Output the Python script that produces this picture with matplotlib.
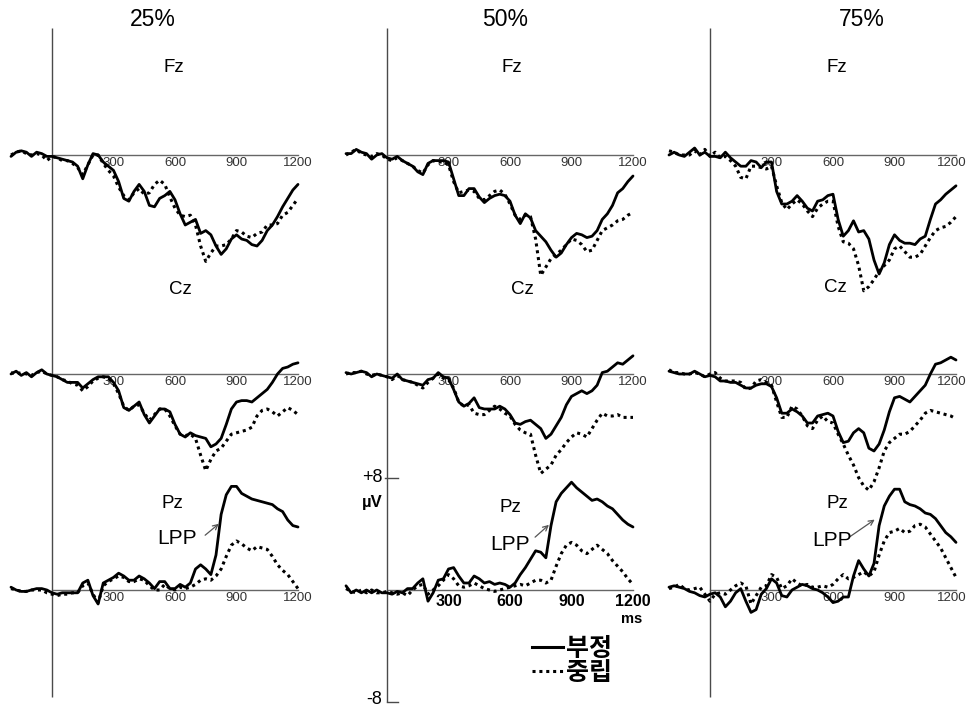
import matplotlib
matplotlib.use("Agg")
import matplotlib.pyplot as plt
from matplotlib.font_manager import FontProperties
from matplotlib.lines import Line2D
import numpy as np

# ---------------- data (µV) ----------------
TIMES = [-200, -175, -150, -125, -100, -75, -50, -25, 0, 25, 50, 75, 100, 125, 150, 175,
         200, 225, 250, 275, 300, 325, 350, 375, 400, 425, 450, 475, 500, 525, 550, 575,
         600, 625, 650, 675, 700, 725, 750, 775, 800, 825, 850, 875, 900, 925, 950, 975,
         1000, 1025, 1050, 1075, 1100, 1125, 1150, 1175, 1200]

CONDITIONS = ["25%", "50%", "75%"]
ELECTRODES = ["Fz", "Cz", "Pz"]
SERIES_LABELS = ["부정", "중립"]
TICK_LABELS = [300, 600, 900, 1200]

# 25%
FZ_25_NEG = [-0.1, 0.2, 0.3, 0.2, -0.1, 0.2, 0.1, -0.1, -0.1, -0.2, -0.3, -0.4, -0.5, -0.8, -1.7, -0.7,
             0.1, 0.0, -0.5, -0.8, -1.1, -1.9, -3.1, -3.3, -2.6, -2.1, -2.6, -3.6, -3.7, -3.1, -2.9, -2.6,
             -3.2, -4.2, -5.0, -4.8, -4.6, -5.6, -5.4, -5.7, -6.5, -7.1, -6.7, -6.0, -5.7, -6.0, -6.1, -6.4,
             -6.5, -6.1, -5.4, -5.0, -4.4, -3.7, -3.1, -2.5, -2.1]
FZ_25_NEU = [0.0, 0.2, 0.3, 0.1, 0.0, 0.1, 0.0, -0.4, -0.1, -0.2, -0.4, -0.4, -0.6, -0.9, -1.4, -0.7,
             0.0, 0.0, -0.6, -1.1, -1.5, -2.3, -2.9, -3.2, -2.7, -2.4, -2.8, -2.7, -2.1, -1.8, -2.1, -3.0,
             -3.8, -4.3, -4.4, -4.3, -5.0, -6.5, -7.6, -7.0, -6.5, -6.5, -6.4, -6.0, -5.4, -5.5, -5.8, -5.9,
             -5.6, -5.5, -5.0, -5.0, -4.9, -4.3, -4.1, -3.6, -3.1]
CZ_25_NEG = [0.0, 0.2, -0.1, 0.1, -0.2, 0.1, 0.3, 0.0, -0.1, -0.2, -0.4, -0.6, -0.6, -0.6, -1.0, -0.7,
             -0.4, -0.2, -0.2, -0.2, -0.6, -1.2, -2.4, -2.6, -2.3, -2.0, -2.9, -3.5, -3.0, -2.5, -2.5, -2.7,
             -3.6, -4.3, -4.5, -4.2, -4.4, -4.5, -4.6, -5.2, -5.0, -4.6, -3.6, -2.5, -2.0, -1.9, -1.9, -2.0,
             -1.7, -1.4, -1.1, -0.6, 0.0, 0.4, 0.5, 0.7, 0.8]
CZ_25_NEU = [0.1, 0.0, 0.1, 0.0, -0.1, 0.1, 0.2, 0.0, -0.1, -0.2, -0.4, -0.5, -0.7, -0.8, -1.2, -0.9,
             -0.5, -0.3, -0.2, -0.3, -0.7, -1.4, -2.3, -2.6, -2.3, -2.2, -2.8, -3.3, -2.9, -2.5, -2.5, -3.0,
             -3.7, -4.3, -4.4, -4.3, -4.6, -5.8, -6.9, -6.1, -5.5, -5.3, -4.8, -4.3, -4.2, -4.1, -4.0, -3.8,
             -3.0, -2.6, -2.5, -2.7, -3.0, -2.7, -2.4, -2.6, -2.9]
PZ_25_NEG = [0.2, 0.0, -0.1, -0.1, 0.0, 0.1, 0.1, 0.0, -0.2, -0.3, -0.2, -0.2, -0.2, -0.2, 0.5, 0.7,
             -0.4, -1.0, 0.5, 0.7, 0.9, 1.2, 1.0, 0.7, 0.7, 1.0, 0.8, 0.5, 0.1, 0.6, 0.6, 0.1,
             0.1, 0.4, 0.2, 0.5, 1.5, 1.8, 1.5, 1.1, 2.5, 5.4, 6.8, 7.4, 7.4, 6.9, 6.7, 6.5,
             6.4, 6.3, 6.2, 6.1, 5.8, 5.6, 5.0, 4.6, 4.5]
PZ_25_NEU = [0.1, 0.0, -0.1, -0.1, 0.0, 0.0, 0.0, -0.2, -0.3, -0.4, -0.3, -0.3, -0.2, -0.2, 0.3, 0.5,
             -0.3, -0.9, 0.3, 0.6, 0.8, 1.0, 0.9, 0.6, 0.6, 0.8, 0.7, 0.3, 0.0, 0.0, 0.4, 0.1,
             0.0, 0.2, 0.1, 0.2, 0.4, 0.7, 0.8, 0.7, 1.0, 1.5, 2.4, 3.2, 3.5, 3.3, 3.0, 2.8,
             3.1, 3.0, 2.9, 2.4, 1.8, 1.4, 1.1, 0.6, 0.1]

# 50%
FZ_50_NEG = [0.1, 0.1, 0.4, 0.2, 0.1, -0.3, 0.0, 0.1, -0.2, -0.3, -0.1, -0.4, -0.6, -0.8, -1.2, -1.4,
             -0.6, -0.4, -0.4, -0.4, -0.5, -1.7, -2.9, -2.9, -2.4, -2.4, -3.0, -3.4, -3.1, -2.9, -2.8, -2.9,
             -3.3, -4.3, -4.9, -4.2, -4.5, -5.4, -5.8, -6.2, -6.8, -7.3, -7.0, -6.4, -5.9, -5.6, -5.7, -5.9,
             -5.8, -5.4, -4.6, -4.2, -3.6, -2.7, -2.4, -1.9, -1.5]
FZ_50_NEU = [0.0, 0.2, 0.4, 0.1, 0.0, -0.1, 0.1, 0.0, -0.3, -0.4, -0.2, -0.4, -0.6, -0.8, -1.1, -1.3,
             -0.7, -0.4, -0.5, -0.5, -0.7, -1.9, -2.7, -2.6, -2.5, -2.6, -3.1, -3.2, -2.9, -2.6, -2.5, -2.8,
             -3.5, -4.3, -4.6, -4.3, -4.4, -6.0, -8.6, -8.0, -7.4, -7.1, -6.8, -6.4, -6.0, -6.1, -6.4, -6.9,
             -6.8, -6.1, -5.4, -5.2, -5.0, -4.7, -4.6, -4.3, -4.1]
CZ_50_NEG = [0.1, 0.0, 0.1, 0.2, 0.1, -0.2, 0.0, -0.1, -0.2, -0.3, 0.0, -0.4, -0.5, -0.6, -0.7, -0.8,
             -0.4, -0.3, 0.1, -0.2, -0.3, -1.1, -2.0, -2.3, -2.1, -1.7, -2.4, -2.5, -2.5, -2.5, -2.3, -2.5,
             -2.9, -3.5, -3.6, -3.4, -3.3, -3.6, -3.9, -4.6, -4.3, -3.7, -3.1, -2.2, -1.6, -1.4, -1.2, -1.4,
             -1.2, -0.8, 0.1, 0.2, 0.5, 0.8, 0.7, 1.0, 1.3]
CZ_50_NEU = [0.0, 0.1, 0.1, 0.2, 0.0, -0.1, 0.0, -0.1, -0.2, -0.4, -0.1, -0.4, -0.5, -0.6, -0.8, -1.0,
             -0.6, -0.3, 0.0, -0.3, -0.4, -1.0, -2.0, -2.3, -2.2, -2.8, -2.9, -2.9, -2.6, -2.3, -2.5, -2.8,
             -3.0, -3.6, -4.0, -4.2, -4.3, -5.8, -7.1, -6.8, -6.5, -5.8, -5.4, -4.9, -4.5, -4.2, -4.3, -4.5,
             -3.9, -3.3, -2.8, -3.0, -3.0, -2.9, -3.1, -3.1, -3.1]
PZ_50_NEG = [0.3, -0.2, 0.0, -0.2, 0.0, -0.2, 0.0, -0.2, -0.2, -0.3, -0.1, -0.2, 0.1, 0.1, 0.5, 0.8,
             -0.8, -0.2, 0.7, 0.8, 1.5, 1.6, 1.0, 0.5, 0.5, 1.0, 0.8, 0.5, 0.6, 0.4, 0.5, 0.4,
             0.2, 0.5, 1.1, 1.6, 2.2, 2.8, 2.7, 2.3, 4.6, 6.3, 6.9, 7.3, 7.7, 7.3, 7.0, 6.7,
             6.4, 6.5, 6.3, 6.0, 5.8, 5.4, 5.0, 4.7, 4.5]
PZ_50_NEU = [0.1, -0.1, -0.2, 0.0, -0.2, 0.0, -0.2, -0.2, -0.1, -0.2, -0.3, -0.2, -0.4, 0.0, 0.3, 0.4,
             -0.3, 0.0, 0.3, 0.7, 1.1, 0.8, 0.3, 0.2, 0.3, 0.5, 0.3, 0.1, 0.0, -0.1, 0.0, 0.1,
             0.2, 0.3, 0.4, 0.3, 0.5, 0.7, 0.7, 0.5, 0.7, 1.7, 2.6, 3.2, 3.4, 3.2, 2.8, 2.6,
             2.9, 3.2, 2.9, 2.6, 2.1, 1.7, 1.3, 0.8, 0.4]

# 75%
FZ_75_NEG = [0.0, 0.2, 0.0, -0.1, 0.2, 0.5, 0.0, 0.2, -0.1, -0.1, -0.2, 0.2, -0.2, -0.5, -0.8, -0.8,
             -0.4, -0.5, -0.9, -0.5, -0.5, -2.6, -3.5, -3.5, -3.3, -2.9, -3.3, -3.8, -4.0, -3.3, -3.2, -2.9,
             -2.8, -4.6, -5.8, -5.4, -4.7, -5.5, -5.4, -6.0, -7.5, -8.5, -7.7, -6.4, -5.7, -6.1, -6.3, -6.3,
             -6.4, -6.0, -5.8, -4.6, -3.5, -3.2, -2.8, -2.5, -2.2]
FZ_75_NEU = [0.3, 0.2, 0.0, 0.0, 0.0, 0.3, 0.0, 0.4, -0.1, 0.2, -0.2, -0.1, -0.4, -0.8, -1.6, -1.7,
             -0.8, -0.8, -0.9, -1.0, -0.8, -2.2, -3.4, -3.9, -3.5, -3.2, -3.5, -4.0, -4.4, -3.8, -3.5, -3.3,
             -3.3, -5.1, -6.2, -6.3, -6.7, -7.9, -9.7, -9.4, -8.9, -8.3, -7.9, -7.5, -6.7, -6.5, -6.9, -7.3,
             -7.3, -7.1, -6.5, -5.9, -5.4, -5.2, -5.1, -4.8, -4.4]
CZ_75_NEG = [0.2, 0.1, 0.0, 0.0, 0.0, 0.2, 0.0, -0.2, -0.1, -0.2, -0.5, -0.5, -0.6, -0.6, -0.8, -1.0,
             -1.0, -0.8, -0.7, -0.7, -0.9, -1.7, -2.8, -2.8, -2.5, -2.7, -3.0, -3.5, -3.5, -3.0, -2.9, -2.8,
             -3.0, -4.1, -4.9, -4.8, -4.2, -3.9, -4.2, -5.3, -5.5, -5.0, -4.0, -2.7, -1.7, -1.6, -1.8, -2.0,
             -1.6, -1.2, -0.8, 0.0, 0.7, 0.8, 1.0, 1.2, 1.0]
CZ_75_NEU = [0.3, 0.1, 0.1, 0.0, 0.0, 0.1, 0.0, -0.2, 0.0, 0.1, -0.3, -0.5, -0.5, -0.5, -0.6, -1.1,
             -1.0, -0.5, -0.4, -0.6, -0.8, -2.0, -3.1, -3.1, -2.3, -2.5, -3.0, -3.7, -3.9, -3.3, -3.0, -3.4,
             -3.5, -4.3, -5.0, -5.8, -6.5, -7.4, -8.0, -8.3, -7.7, -6.7, -5.5, -4.9, -4.6, -4.3, -4.3, -4.1,
             -3.7, -3.3, -2.8, -2.6, -2.7, -2.8, -2.9, -3.0, -3.2]
PZ_75_NEG = [0.2, 0.3, 0.2, 0.1, -0.1, -0.2, -0.4, -0.5, -0.3, -0.2, -0.5, -1.2, -0.8, -0.2, 0.1, -0.8,
             -1.6, -1.4, -0.3, 0.1, 0.8, 0.5, -0.4, -0.5, 0.0, 0.2, 0.4, 0.3, 0.1, 0.0, -0.2, -0.5,
             -0.9, -0.8, -0.5, -0.5, 1.0, 2.1, 1.5, 1.0, 1.9, 4.6, 6.0, 6.7, 7.2, 7.2, 6.3, 6.1,
             6.0, 5.8, 5.5, 5.4, 5.1, 4.6, 4.1, 3.8, 3.4]
PZ_75_NEU = [0.1, 0.2, 0.4, 0.1, 0.0, 0.1, 0.2, -0.3, -0.8, -0.3, -0.2, -0.3, 0.0, 0.3, 0.5, 0.3,
             -1.0, -0.4, 0.2, 0.3, 1.1, 0.9, 0.1, 0.3, 0.8, 0.5, 0.3, 0.4, 0.2, 0.2, 0.3, 0.2,
             0.4, 0.8, 1.1, 0.8, 0.9, 1.1, 1.3, 1.0, 1.3, 2.5, 3.5, 4.1, 4.2, 4.4, 4.1, 4.2,
             4.6, 4.7, 4.5, 4.0, 3.5, 3.0, 2.3, 1.6, 0.9]

DATA = {
    "25%": {"Fz": (FZ_25_NEG, FZ_25_NEU), "Cz": (CZ_25_NEG, CZ_25_NEU), "Pz": (PZ_25_NEG, PZ_25_NEU)},
    "50%": {"Fz": (FZ_50_NEG, FZ_50_NEU), "Cz": (CZ_50_NEG, CZ_50_NEU), "Pz": (PZ_50_NEG, PZ_50_NEU)},
    "75%": {"Fz": (FZ_75_NEG, FZ_75_NEU), "Cz": (CZ_75_NEG, CZ_75_NEU), "Pz": (PZ_75_NEG, PZ_75_NEU)},
}

# ---------------- layout ----------------
FIG_W, FIG_H = 967, 710
PX_PER_MS = 0.205
PX_PER_UV = 14.0
PZ_BASE_PX = 590
BASE_PX = {"Fz": 155, "Cz": 374, "Pz": 590}
COL_ZERO_PX = [52, 387, 710]
COL_SPAN_PX = [(0, 330), (330, 655), (655, 967)]
TITLE_X_PX = [153, 505, 862]

LATIN = "Liberation Sans"
KOREAN = FontProperties(family=["Noto Sans CJK KR", "DejaVu Sans"], weight="bold", size=18)

fig = plt.figure(figsize=(FIG_W / 100, FIG_H / 100), dpi=100)

def off(el):
    return (PZ_BASE_PX - BASE_PX[el]) / PX_PER_UV

def fx(px):
    return px / FIG_W

def fy(py):
    return 1 - py / FIG_H

label_pos = {  # (x_px, y_px) for electrode labels and LPP labels per column
    0: {"Fz": (174, 68), "Cz": (180, 290), "Pz": (172, 503), "LPP": (177, 538),
        "arrow": ((203, 537), (221, 522))},
    1: {"Fz": (512, 68), "Cz": (522, 290), "Pz": (510, 507), "LPP": (510, 545),
        "arrow": ((533, 539), (551, 523))},
    2: {"Fz": (837, 68), "Cz": (835, 287), "Pz": (837, 503), "LPP": (832, 540),
        "arrow": ((848, 538), (877, 518))},
}

dot_style = (0, (1.0, 1.25))
axes = []
for ci, cond in enumerate(CONDITIONS):
    l, r = COL_SPAN_PX[ci]
    z = COL_ZERO_PX[ci]
    ax = fig.add_axes([fx(l), 0, (r - l) / FIG_W, 1])
    ax.set_xlim((l - z) / PX_PER_MS, (r - z) / PX_PER_MS)
    ax.set_ylim((PZ_BASE_PX - FIG_H) / PX_PER_UV, PZ_BASE_PX / PX_PER_UV)
    ax.axis("off")
    axes.append(ax)

    # vertical zero line
    bottom = -8 if ci == 1 else (PZ_BASE_PX - 697) / PX_PER_UV
    ax.plot([0, 0], [(PZ_BASE_PX - 28) / PX_PER_UV, bottom], color="#4a4a4a", lw=1.0,
            solid_capstyle="butt")

    for el in ELECTRODES:
        o = off(el)
        neg, neu = DATA[cond][el]
        ax.plot([0, 1200], [o, o], color="#666666", lw=1.0, zorder=1)
        ax.plot(TIMES, np.array(neu) + o, color="black", lw=2.2, ls=dot_style, zorder=2)
        ax.plot(TIMES, np.array(neg) + o, color="black", lw=2.0, zorder=3,
                solid_joinstyle="round", solid_capstyle="round")
        bold = (ci == 1 and el == "Pz")
        for t in TICK_LABELS:
            if bold:
                ax.text(t, o - 0.8, str(t), ha="center", va="center", fontsize=11.5,
                        fontweight="bold", family=LATIN, color="black", zorder=0)
            else:
                # keep the right-most label of the last column inside the figure
                if ci == 2 and t == 1200:
                    ax.text(t + 50, o - 0.6, str(t), ha="right", va="center", fontsize=9.5,
                            family=LATIN, color="#333333", zorder=0)
                else:
                    ax.text(t, o - 0.6, str(t), ha="center", va="center", fontsize=9.5,
                            family=LATIN, color="#333333", zorder=0)
        x, y = label_pos[ci][el]
        fig.text(fx(x), fy(y), el, ha="center", va="center", fontsize=13.5, family=LATIN)

    x, y = label_pos[ci]["LPP"]
    fig.text(fx(x), fy(y), "LPP", ha="center", va="center", fontsize=15, family=LATIN)
    (x0, y0), (x1, y1) = label_pos[ci]["arrow"]
    fig.add_artist(matplotlib.patches.FancyArrowPatch(
        (fx(x0), fy(y0)), (fx(x1), fy(y1)), transform=fig.transFigure,
        arrowstyle="->", mutation_scale=9, color="#555555", lw=0.9))

    fig.text(fx(TITLE_X_PX[ci]), fy(20), cond, ha="center", va="center",
             fontsize=16.5, family=LATIN)

# scale bar on the middle column
ax = axes[1]
ax.plot([-10, 54], [8, 8], color="#4a4a4a", lw=1.0)
ax.plot([0, 54], [-8, -8], color="#4a4a4a", lw=1.0)
ax.text(1195, -2.1, "ms", ha="center", va="center", fontsize=10.5, fontweight="bold", family=LATIN)
fig.text(fx(372), fy(478), "+8", ha="center", va="center", fontsize=13, family=LATIN)
fig.text(fx(372), fy(502), "µV", ha="center", va="center", fontsize=12, fontweight="bold", family=LATIN)
fig.text(fx(374), fy(699), "-8", ha="center", va="center", fontsize=13, family=LATIN)

handles = [Line2D([], [], color="black", lw=2.2),
           Line2D([], [], color="black", lw=2.2, ls=dot_style)]
fig.legend(handles, SERIES_LABELS, loc="upper left", bbox_to_anchor=(fx(532), fy(637)),
           bbox_transform=fig.transFigure, frameon=False, prop=KOREAN, handlelength=1.25,
           handletextpad=0.1, labelspacing=0.0, borderpad=0, borderaxespad=0)

fig.savefig("out.png", dpi=100, facecolor="white")
